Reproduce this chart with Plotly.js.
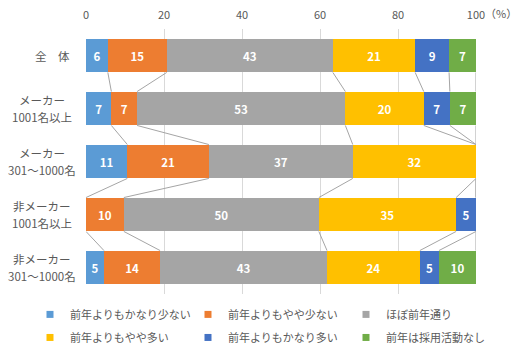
<!DOCTYPE html>
<html>
<head>
<meta charset="utf-8">
<script src="https://cdn.plot.ly/plotly-3.0.1.min.js"></script>
<style>html,body{margin:0;padding:0;background:#fff;}#chart{width:519px;height:357px;}</style>
</head>
<body>
<div id="chart"></div>
<script>
// ---- data ----
var categories = ['全　体', 'メーカー<br>1001名以上', 'メーカー<br>301～1000名', '非メーカー<br>1001名以上', '非メーカー<br>301～1000名'];
var seriesNames = ['前年よりもかなり少ない', '前年よりもやや少ない', 'ほぼ前年通り', '前年よりもやや多い', '前年よりもかなり多い', '前年は採用活動なし'];
var muchFewer   = [5.6, 6.5, 10.6, 0,    4.6];
var slightFewer = [15.1, 6.6, 20.9, 9.7, 14.4];
var same        = [42.6, 53.4, 36.9, 50.0, 42.8];
var slightMore  = [21.1, 20.1, 31.6, 35.2, 23.8];
var muchMore    = [8.7, 6.7, 0,    5.1,  4.9];
var noHiring    = [6.9, 6.7, 0,    0,    9.5];
var xTickVals = [0, 20, 40, 60, 80, 100];
var xTickText = ['0', '20', '40', '60', '80', '100'];
var unitLabel = '（%）';

// ---- styles ----
var colors = ['#5B9BD5', '#ED7D31', '#A5A5A5', '#FFC000', '#4472C4', '#70AD47'];
var FONT = '"Noto Sans CJK JP", "Noto Sans", sans-serif';
var TEXT_COLOR = '#595959';
var BAR_W = 0.64;

var series = [muchFewer, slightFewer, same, slightMore, muchMore, noHiring];
var yIdx = categories.map(function (_, i) { return i; });

var traces = [];
series.forEach(function (vals, k) {
  traces.push({
    type: 'bar', orientation: 'h', name: seriesNames[k],
    x: vals, y: yIdx, width: BAR_W,
    marker: { color: colors[k], line: { width: 0 } },
    text: vals.map(function (v) { return v > 0 ? '<b>' + Math.round(v) + '</b>' : ''; }),
    textposition: 'inside', insidetextanchor: 'middle', textangle: 0,
    constraintext: 'none',
    textfont: { color: '#ffffff', size: 11.5, family: FONT },
    showlegend: false, hoverinfo: 'x+name'
  });
});

// series connector lines (Excel style)
var cum = [];
var running = categories.map(function () { return 0; });
series.forEach(function (vals) {
  running = running.map(function (r, i) { return r + vals[i]; });
  cum.push(running.slice());
});
var lx = [], ly = [];
cum.forEach(function (c) {
  for (var i = 0; i < categories.length - 1; i++) {
    lx.push(c[i], c[i + 1], null);
    ly.push(i + BAR_W / 2, i + 1 - BAR_W / 2, null);
  }
});
traces.push({
  type: 'scatter', mode: 'lines', x: lx, y: ly,
  line: { color: '#A5A5A5', width: 1 }, showlegend: false, hoverinfo: 'skip'
});

// legend entries (small square markers), two rows of three
seriesNames.forEach(function (n, k) {
  traces.push({
    type: 'scatter', mode: 'markers', name: n, x: [null], y: [null],
    marker: { symbol: 'square', size: 7, color: colors[k] },
    showlegend: true, hoverinfo: 'skip',
    legend: k < 3 ? 'legend' : 'legend2'
  });
});

// category labels (each line placed separately for Excel-like line spacing)
var annotations = [];
categories.forEach(function (c, i) {
  var lines = c.split('<br>');
  if (lines.length === 1) {
    annotations.push({
      xref: 'paper', yref: 'y', x: -0.036, y: i, xanchor: 'right', yanchor: 'middle',
      text: lines[0], showarrow: false,
      font: { family: FONT, size: 11.5, color: TEXT_COLOR }
    });
  } else {
    lines.forEach(function (ln, j) {
      annotations.push({
        xref: 'paper', yref: 'y', x: -0.112, y: i, xanchor: 'center', yanchor: 'middle',
        yshift: j === 0 ? 8.5 : -8.5,
        text: ln, showarrow: false,
        font: { family: FONT, size: 11.5, color: TEXT_COLOR }
      });
    });
  }
});
annotations.push({
  xref: 'paper', yref: 'paper', x: 1.018, y: 1.0604, xanchor: 'left', yanchor: 'middle',
  text: unitLabel, showarrow: false, font: { family: FONT, size: 11, color: TEXT_COLOR }
});

var legendBase = {
  orientation: 'h', x: -0.1436, xanchor: 'left', yanchor: 'middle',
  entrywidth: 113, entrywidthmode: 'pixels',
  font: { family: FONT, size: 11, color: TEXT_COLOR },
  bgcolor: 'rgba(0,0,0,0)', borderwidth: 0, traceorder: 'normal'
};

var layout = {
  width: 519, height: 357,
  margin: { l: 86, r: 43, t: 29, b: 63, pad: 0, autoexpand: false },
  paper_bgcolor: '#ffffff', plot_bgcolor: '#ffffff',
  barmode: 'stack', bargap: 0,
  font: { family: FONT, color: TEXT_COLOR, size: 11 },
  xaxis: {
    side: 'top', range: [0, 100], tickvals: xTickVals, ticktext: xTickText,
    showgrid: true, gridcolor: '#D9D9D9', gridwidth: 1,
    zeroline: false, showline: false, ticks: '', ticklabelstandoff: 7,
    tickfont: { family: FONT, size: 11, color: TEXT_COLOR }, fixedrange: true
  },
  yaxis: {
    range: [4.5, -0.5], showgrid: false, zeroline: false, showline: false,
    showticklabels: false, ticks: '', fixedrange: true
  },
  showlegend: true,
  legend: Object.assign({}, legendBase, { y: -0.077 }),
  legend2: Object.assign({}, legendBase, { y: -0.164 }),
  annotations: annotations
};

Plotly.newPlot('chart', traces, layout, { displayModeBar: false, staticPlot: true });
</script>
</body>
</html>
